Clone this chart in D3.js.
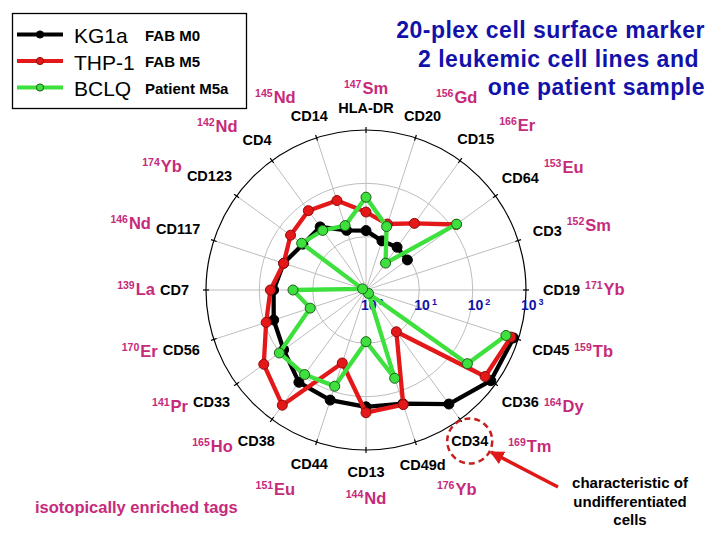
<!DOCTYPE html>
<html>
<head>
<meta charset="utf-8">
<script src="https://cdn.jsdelivr.net/npm/d3@7"></script>
<style>
  body { margin: 0; background: #fff; }
  svg { display: block; font-family: "Liberation Sans", Arial, sans-serif; }
</style>
</head>
<body>
<svg id="chart" width="720" height="540"></svg>
<script>
// markers, clockwise from 12 o'clock
const markers = ["HLA-DR", "CD20", "CD15", "CD64", "CD3", "CD19", "CD45", "CD36", "CD34", "CD49d",
                 "CD13", "CD44", "CD38", "CD33", "CD56", "CD7", "CD117", "CD123", "CD4", "CD14"];
// isotope tag of each marker
const tagMass = [147, 156, 166, 153, 152, 171, 159, 164, 169, 176,
                 144, 151, 165, 141, 170, 139, 146, 174, 142, 145];
const tagElement = ["Sm", "Gd", "Er", "Eu", "Sm", "Yb", "Tb", "Dy", "Tm", "Yb",
                    "Nd", "Eu", "Ho", "Pr", "Er", "La", "Nd", "Yb", "Nd", "Nd"];

// radial axis (log)
const radialTicks = [1, 10, 100, 1000];
const tickExponents = ["0", "1", "2", "3"];

// series (CD3 / CD19 not plotted)
const seriesNames = ["KG1a", "THP-1", "BCLQ"];
const seriesNotes = ["FAB M0", "FAB M5", "Patient M5a"];
const kg1a = [13, 9.3, 9.8, 9.1, null, null, 810, 780, 440, 174, 155, 148, 138, 81, 66, 54, 42, 29, 29, 15];
const thp1 = [29, 20, 35, 123, null, null, 720, 575, 9.3, 182, 200, 27.5, 468, 234, 93, 62, 42, 56, 69, 58];
const bclq = [55, 17.8, 4.2, 126, null, null, 575, 224, 1.2, 55, 9.3, 79, 91, 102, 12.6, 23.4, 1.17, 31, 24, 18.6];

const titleLines = ["20-plex cell surface marker", "2 leukemic cell lines and", "one patient sample"];
const noteLines = ["characteristic of", "undifferentiated", "cells"];
const tagCaption = "isotopically enriched tags";
const highlighted = "CD34";

const svg = d3.select("#chart");
const cx = 366, cy = 290, R = 160;
const colors = ["#000000", "#e41818", "#3de03d"];
const dotStroke = ["#000000", "#900c0c", "#1c5e1c"];
const magenta = "#c62a7a";
const blue = "#1212aa";

const rScale = d3.scaleLog().domain([1, 1000]).range([0, R]);
const angle = d3.scaleLinear().domain([0, markers.length]).range([0, 2 * Math.PI]);

function polar(a, r) {
  return [r * Math.sin(a), -r * Math.cos(a)];
}

const g = svg.append("g").attr("transform", `translate(${cx},${cy})`);

// 放射状のグリッド
markers.forEach((m, i) => {
  const [x, y] = polar(angle(i), R);
  g.append("line")
    .attr("x1", 0).attr("y1", 0).attr("x2", x).attr("y2", y)
    .attr("stroke", "#bdbdbd").attr("stroke-width", 1);
});
radialTicks.slice(1, -1).forEach(t => {
  g.append("circle").attr("r", rScale(t))
    .attr("fill", "none").attr("stroke", "#bdbdbd").attr("stroke-width", 1);
});
g.append("circle").attr("r", R)
  .attr("fill", "none").attr("stroke", "#000").attr("stroke-width", 1.2);
markers.forEach((m, i) => {
  const [x1, y1] = polar(angle(i), R - 3);
  const [x2, y2] = polar(angle(i), R + 3);
  g.append("line").attr("x1", x1).attr("y1", y1).attr("x2", x2).attr("y2", y2)
    .attr("stroke", "#000").attr("stroke-width", 1.2);
});

// 目盛りラベル 10^n
radialTicks.forEach((t, i) => {
  const txt = g.append("text")
    .attr("x", rScale(t) - 5).attr("y", 19.5)
    .attr("fill", blue).attr("font-weight", "bold").attr("font-size", 14);
  txt.append("tspan").text("10");
  txt.append("tspan").attr("dx", 2).attr("dy", -5).attr("font-size", 9).text(tickExponents[i]);
});

// series
[kg1a, thp1, bclq].forEach((vals, s) => {
  const pts = vals.map((v, i) => ({ v, i })).concat([{ v: vals[0], i: markers.length }]);
  const line = d3.lineRadial()
    .angle(d => angle(d.i))
    .radius(d => rScale(d.v))
    .defined(d => d.v != null);
  g.append("path")
    .attr("d", line(pts))
    .attr("fill", "none")
    .attr("stroke", colors[s])
    .attr("stroke-width", 4.3)
    .attr("stroke-linejoin", "round")
    .attr("stroke-linecap", "round");
  g.append("g").selectAll("circle")
    .data(pts.filter(d => d.v != null && d.i < markers.length))
    .join("circle")
    .attr("cx", d => polar(angle(d.i), rScale(d.v))[0])
    .attr("cy", d => polar(angle(d.i), rScale(d.v))[1])
    .attr("r", 5)
    .attr("fill", colors[s])
    .attr("stroke", dotStroke[s])
    .attr("stroke-width", 1);
});

// marker labels + isotope tags
const labelPos = [];
markers.forEach((m, i) => {
  const a = angle(i), s = Math.sin(a), c = Math.cos(a);
  const lab = svg.append("text")
    .attr("text-anchor", "middle")
    .attr("font-size", 14.5).attr("font-weight", "bold").attr("fill", "#000")
    .text(m);
  const w = lab.node().getComputedTextLength();
  const rr = R + 17 + s * s * w / 2 + c * c * 5;
  const [px, py] = polar(a, rr);
  const lx = cx + px - (m === highlighted ? 6 : 0), ly = cy + py + 5;
  lab.attr("x", lx).attr("y", ly);
  labelPos.push([lx, cy + py]);

  const tag = svg.append("text")
    .attr("font-weight", "bold").attr("fill", magenta);
  tag.append("tspan").attr("font-size", 10.5).attr("dy", -6).text(tagMass[i]);
  tag.append("tspan").attr("font-size", 16.5).attr("dy", 6).attr("dx", 1).text(tagElement[i]);
  if (Math.abs(s) >= 0.5) {
    const shift = c > 0 ? -16 * c : -8 * c;
    const gap = m === highlighted ? 20 : 5;
    tag.attr("text-anchor", s > 0 ? "start" : "end")
      .attr("x", s > 0 ? lx + w / 2 + gap : lx - w / 2 - gap)
      .attr("y", ly + shift);
  } else {
    const shift = c > 0 ? -19 * c : -27 * c;
    tag.attr("text-anchor", "middle")
      .attr("x", lx + s * 110)
      .attr("y", ly + shift);
  }
});

// CD34 の注目円と矢印
const [c34x, c34y] = labelPos[markers.indexOf(highlighted)];
svg.append("circle")
  .attr("cx", c34x).attr("cy", c34y).attr("r", 22.5)
  .attr("fill", "none").attr("stroke", "#c42020")
  .attr("stroke-width", 2.5).attr("stroke-dasharray", "6,4");

svg.append("defs").append("marker")
  .attr("id", "head").attr("viewBox", "0 0 10 10")
  .attr("refX", 9).attr("refY", 5)
  .attr("markerWidth", 4).attr("markerHeight", 4)
  .attr("orient", "auto")
  .append("path").attr("d", "M0,0 L10,5 L0,10 Z").attr("fill", "#e01818");

const arrowStart = [558, 487];
const dx = arrowStart[0] - c34x, dy = arrowStart[1] - c34y;
const len = Math.hypot(dx, dy);
svg.append("line")
  .attr("x1", arrowStart[0]).attr("y1", arrowStart[1])
  .attr("x2", c34x + dx / len * 24).attr("y2", c34y + dy / len * 24)
  .attr("stroke", "#e01818").attr("stroke-width", 3.5)
  .attr("marker-end", "url(#head)");

svg.append("g").selectAll("text")
  .data(noteLines)
  .join("text")
  .attr("x", 630).attr("y", (d, i) => 488 + i * 18.5)
  .attr("text-anchor", "middle")
  .attr("font-size", 15).attr("font-weight", "bold").attr("fill", "#000")
  .text(d => d);

svg.append("text")
  .attr("x", 35).attr("y", 513)
  .attr("font-size", 16.5).attr("font-weight", "bold").attr("fill", magenta)
  .text(tagCaption);

// title
svg.append("g").selectAll("text")
  .data(titleLines)
  .join("text")
  .attr("x", (d, i) => i === 1 ? 699 : 705)
  .attr("y", (d, i) => 38 + i * 28.5)
  .attr("text-anchor", "end")
  .attr("font-size", 23).attr("font-weight", "bold")
  .attr("letter-spacing", 0.5)
  .attr("fill", blue)
  .text(d => d);

// legend
const legend = svg.append("g");
legend.append("rect")
  .attr("x", 12.5).attr("y", 13.5).attr("width", 234).attr("height", 95)
  .attr("fill", "#fff").attr("stroke", "#000").attr("stroke-width", 1.3);
seriesNames.forEach((name, s) => {
  const y = 34.5 + s * 26.5;
  legend.append("line")
    .attr("x1", 17).attr("x2", 63).attr("y1", y).attr("y2", y)
    .attr("stroke", colors[s]).attr("stroke-width", 4);
  legend.append("circle")
    .attr("cx", 40).attr("cy", y).attr("r", 3.6)
    .attr("fill", colors[s]).attr("stroke", dotStroke[s]).attr("stroke-width", 1);
  legend.append("text")
    .attr("x", 74).attr("y", y + 8.5)
    .attr("font-size", 21).attr("fill", "#000")
    .text(name);
  legend.append("text")
    .attr("x", 145).attr("y", y + 6)
    .attr("font-size", 15).attr("font-weight", "bold").attr("fill", "#000")
    .text(seriesNotes[s]);
});
</script>
</body>
</html>
